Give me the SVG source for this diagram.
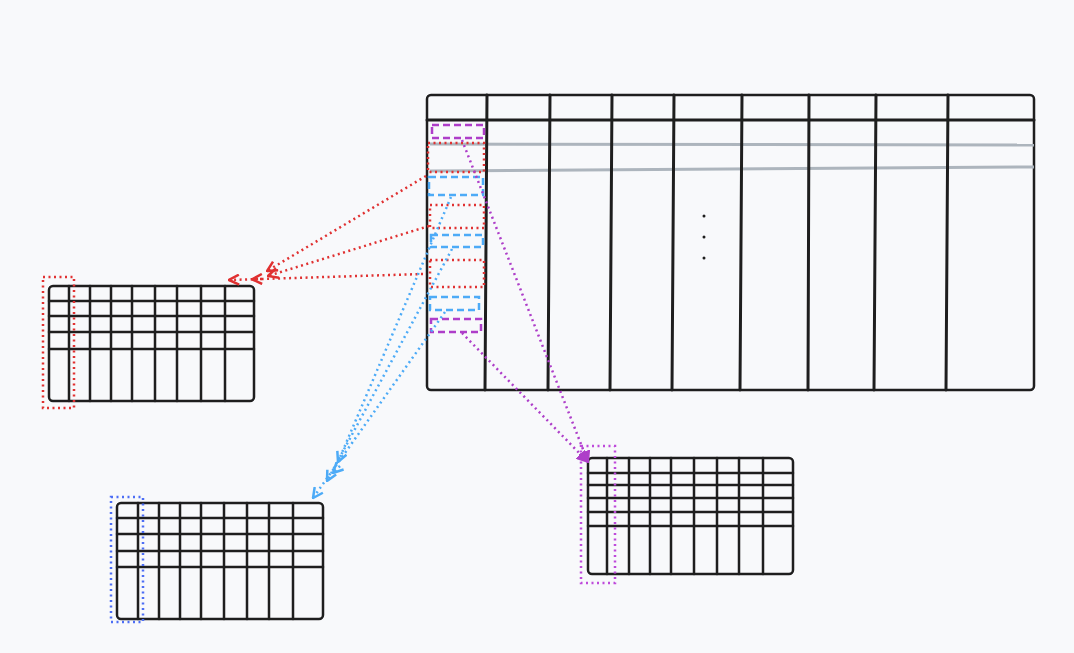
<svg xmlns="http://www.w3.org/2000/svg" width="1074" height="653" viewBox="0 0 1074 653">
<defs>
<style>
.tb{fill:none;stroke:#1e1e1e;stroke-width:2.5;stroke-linecap:round}
.ln{stroke:#1e1e1e;stroke-width:3;stroke-linecap:round;fill:none}
.sl{stroke:#1e1e1e;stroke-width:2.5;stroke-linecap:round;fill:none}
.gray{stroke:#adb5bd;stroke-width:3;fill:none}
.rdot{fill:none;stroke:#e03131;stroke-width:2.5;stroke-dasharray:2 3.5}
.bdot{fill:none;stroke:#4c6ef5;stroke-width:2.5;stroke-dasharray:2 3.5}
.pdot{fill:none;stroke:#be4bdb;stroke-width:2.5;stroke-dasharray:2 3.5}
.bdash{fill:none;stroke:#4dabf7;stroke-width:2.5;stroke-dasharray:7 4}
.pdash{fill:none;stroke:#ae3ec9;stroke-width:2.5;stroke-dasharray:7 4}
.ra{fill:none;stroke:#e03131;stroke-width:2.5;stroke-dasharray:2 3.5}
.ba{fill:none;stroke:#4dabf7;stroke-width:2.5;stroke-dasharray:2 3.5}
.pa{fill:none;stroke:#ae3ec9;stroke-width:2.5;stroke-dasharray:2 3.5}
</style>
<marker id="mr" viewBox="0 0 12 12" refX="11" refY="6" markerWidth="12" markerHeight="12" markerUnits="userSpaceOnUse" orient="auto"><path d="M1,1 L11,6 L1,11" fill="none" stroke="#e03131" stroke-width="2.5"/></marker>
<marker id="mb" viewBox="0 0 12 12" refX="11" refY="6" markerWidth="12" markerHeight="12" markerUnits="userSpaceOnUse" orient="auto"><path d="M1,1 L11,6 L1,11" fill="none" stroke="#4dabf7" stroke-width="2.5"/></marker>
<marker id="mp" viewBox="0 0 12 12" refX="11" refY="6" markerWidth="12" markerHeight="12" markerUnits="userSpaceOnUse" orient="auto"><path d="M1,1 L11,6 L1,11 Z" fill="#ae3ec9" stroke="#ae3ec9" stroke-width="2"/></marker>
</defs>
<rect width="1074" height="653" fill="#f8f9fb"/>

<g id="main-table">
<rect class="tb" x="427" y="95" width="607" height="295" rx="4" stroke-width="3.5"/>
<line class="ln" x1="427" y1="120" x2="1034" y2="120" stroke-width="3.5"/>
<line class="gray" x1="430" y1="144" x2="1034" y2="145"/>
<line class="gray" x1="430" y1="171" x2="1034" y2="167"/>
<line class="ln" x1="487" y1="95" x2="485" y2="390" stroke-width="3.5"/>
<line class="ln" x1="550" y1="95" x2="548" y2="390"/>
<line class="ln" x1="612" y1="95" x2="610" y2="390"/>
<line class="ln" x1="674" y1="95" x2="672" y2="390"/>
<line class="ln" x1="742" y1="95" x2="740" y2="390"/>
<line class="ln" x1="809" y1="95" x2="808" y2="390"/>
<line class="ln" x1="876" y1="95" x2="874" y2="390"/>
<line class="ln" x1="948" y1="95" x2="946" y2="390"/>
<circle cx="704" cy="216" r="1.5" fill="#1e1e1e"/>
<circle cx="704" cy="237" r="1.5" fill="#1e1e1e"/>
<circle cx="704" cy="258" r="1.5" fill="#1e1e1e"/>
</g>

<g id="key-column">
<rect class="pdash" x="432" y="125" width="52" height="13"/>
<rect class="rdot" x="428" y="143" width="56" height="29"/>
<rect class="bdash" x="429" y="177" width="54" height="18"/>
<rect class="rdot" x="430" y="205" width="54" height="23"/>
<rect class="bdash" x="431" y="235" width="52" height="12"/>
<rect class="rdot" x="430" y="260" width="54" height="27"/>
<rect class="bdash" x="430" y="297" width="49" height="13"/>
<rect class="pdash" x="431" y="319" width="50" height="13"/>
</g>

<g id="table-red">
<rect class="tb" x="49" y="286" width="205" height="115" rx="4"/>
<path class="sl" d="M49,301H254M49,316H254M49,332H254M49,349H254"/>
<path class="sl" d="M69,286V401M90,286V401M111,286V401M132,286V401M155,286V401M177,286V401M201,286V401M225,286V401"/>
<rect class="rdot" x="43" y="277" width="31" height="131"/>
</g>

<g id="table-blue">
<rect class="tb" x="117" y="503" width="206" height="116" rx="4"/>
<path class="sl" d="M117,518H323M117,534H323M117,551H323M117,567H323"/>
<path class="sl" d="M138,503V619M159,503V619M180,503V619M201,503V619M224,503V619M247,503V619M269,503V619M293,503V619"/>
<rect class="bdot" x="111" y="497" width="32" height="125"/>
</g>

<g id="table-purple">
<rect class="tb" x="588" y="458" width="205" height="116" rx="4"/>
<path class="sl" d="M588,473H793M588,485H793M588,498H793M588,512H793M588,526H793"/>
<path class="sl" d="M607,458V574M629,458V574M650,458V574M671,458V574M694,458V574M717,458V574M739,458V574M763,458V574"/>
<rect class="pdot" x="581" y="446" width="34" height="137"/>
</g>

<g id="connectors">
<path class="ra" d="M426,176 L267,271" marker-end="url(#mr)"/>
<path class="ra" d="M429,226 L268,276" marker-end="url(#mr)"/>
<path class="ra" d="M423,274 L229,280" marker-end="url(#mr)"/>
<path class="ra" d="M262,279 L252,279.3" marker-end="url(#mr)" stroke="none"/>
<path class="ba" d="M451,197 L338,462" marker-end="url(#mb)"/>
<path class="ba" d="M452,249 L327,481" marker-end="url(#mb)"/>
<path class="ba" d="M340,466 L333,473" marker-end="url(#mb)" stroke="none"/>
<path class="ba" d="M445,312 L313,498" marker-end="url(#mb)"/>
<path class="pa" d="M462,140 L588,462" marker-end="url(#mp)"/>
<path class="pa" d="M462,333 L588,462" marker-end="url(#mp)"/>
</g>
</svg>
